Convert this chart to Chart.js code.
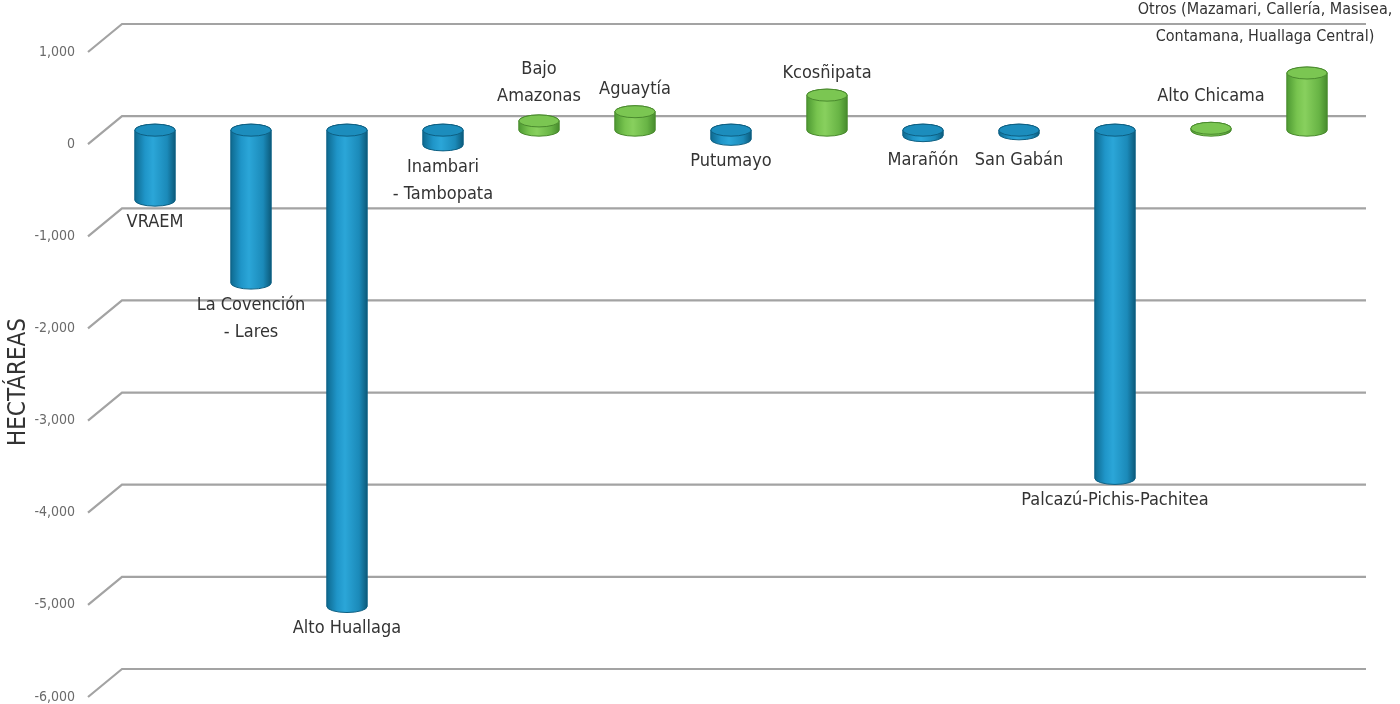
<!DOCTYPE html>
<html>
<head>
<meta charset="utf-8">
<script src="https://cdn.jsdelivr.net/npm/chart.js@4/dist/chart.umd.min.js"></script>
<style>
  html, body { margin: 0; padding: 0; background: #fff; }
  #wrap { width: 1400px; height: 704px; }
</style>
</head>
<body>
<div id="wrap"><canvas id="chart"></canvas></div>
<script>
var zonas = [
    'VRAEM', ['La Covención', '- Lares'], 'Alto Huallaga', ['Inambari', '- Tambopata'],
    ['Bajo', 'Amazonas'], 'Aguaytía', 'Putumayo', 'Kcosñipata', 'Marañón', 'San Gabán',
    'Palcazú-Pichis-Pachitea', 'Alto Chicama',
    ['Otros (Mazamari, Callería, Masisea,', 'Contamana, Huallaga Central)']
];
var hectareas = [-760, -1660, -5170, -160, 100, 200, -100, 380, -60, -40, -3780, 20, 620];

var yMin = -6000;
var yMax = 1000;
var yStep = 1000;
var yTitle = 'HECTÁREAS';

var FONT = "'Liberation Sans Narrow', 'DejaVu Sans Condensed', 'Open Sans', sans-serif";

var BLUE = { cap: '#1c8dbd', edge: '#0d5f82', stops: ['#0e6a90', '#1f95c8', '#2ba6d8', '#1b8ab9', '#0c5b7c'] };
var GREEN = { cap: '#7bc652', edge: '#4a8a2e', stops: ['#4e9a33', '#78c44f', '#88d05e', '#68b445', '#478c2d'] };

// perspective floor lines: slanted stub on the left, flat line behind the bars
var wallGrid = {
    id: 'wallGrid',
    beforeDatasetsDraw: function(chart) {
        var ctx = chart.ctx, y = chart.scales.y;
        ctx.save();
        ctx.strokeStyle = '#a3a3a3';
        ctx.lineWidth = 2.2;
        y.ticks.forEach(function(t) {
            var py = y.getPixelForValue(t.value);
            ctx.beginPath();
            ctx.moveTo(88, py + 14);
            ctx.lineTo(122, py - 14);
            ctx.lineTo(1366, py - 14);
            ctx.stroke();
        });
        ctx.restore();
    },
    afterDraw: function(chart) {
        var ctx = chart.ctx;
        ctx.save();
        ctx.translate(19, 382);
        ctx.rotate(-Math.PI / 2);
        ctx.font = '24px ' + FONT;
        ctx.fillStyle = '#333';
        ctx.textAlign = 'center';
        ctx.textBaseline = 'middle';
        ctx.fillText(yTitle, 0, 0);
        ctx.restore();
    }
};

// turns each bar into a shaded cylinder and writes its zone name at the open end
var cylinders = {
    id: 'cylinders',
    afterDatasetsDraw: function(chart) {
        var ctx = chart.ctx;
        var meta = chart.getDatasetMeta(0);
        var ds = chart.data.datasets[0];
        meta.data.forEach(function(bar, i) {
            var v = ds.data[i];
            var pal = v < 0 ? BLUE : GREEN;
            var rx = bar.width / 2, ry = 6;
            var top = Math.min(bar.y, bar.base), bot = Math.max(bar.y, bar.base);
            var x0 = bar.x - rx, x1 = bar.x + rx;

            var g = ctx.createLinearGradient(x0, 0, x1, 0);
            g.addColorStop(0, pal.stops[0]);
            g.addColorStop(0.25, pal.stops[1]);
            g.addColorStop(0.45, pal.stops[2]);
            g.addColorStop(0.8, pal.stops[3]);
            g.addColorStop(1, pal.stops[4]);

            ctx.save();
            ctx.beginPath();
            ctx.moveTo(x0, top);
            ctx.lineTo(x0, bot);
            ctx.ellipse(bar.x, bot, rx, ry, 0, Math.PI, 0, true);
            ctx.lineTo(x1, top);
            ctx.ellipse(bar.x, top, rx, ry, 0, 0, Math.PI, true);
            ctx.closePath();
            ctx.fillStyle = g;
            ctx.fill();
            ctx.strokeStyle = pal.edge;
            ctx.lineWidth = 1;
            ctx.stroke();

            ctx.beginPath();
            ctx.ellipse(bar.x, top, rx, ry, 0, 0, Math.PI * 2);
            ctx.fillStyle = pal.cap;
            ctx.fill();
            ctx.strokeStyle = pal.edge;
            ctx.stroke();

            // zone label
            var lines = [].concat(chart.data.labels[i]);
            var lh = 27;
            ctx.font = '18px ' + FONT;
            ctx.fillStyle = '#333';
            ctx.textAlign = 'center';
            ctx.textBaseline = 'middle';
            var lx = bar.x, ly;
            if (v < 0) {
                ly = Math.max(bot + ry + 16, 160);
                lines.forEach(function(s, k) { ctx.fillText(s, lx, ly + k * lh); });
            } else {
                ly = Math.min(top - ry - 16, 96);
                if (v > 500) { ly = top - ry - 30; lx = bar.x - 42; ctx.font = '16px ' + FONT; }
                lines.forEach(function(s, k) { ctx.fillText(s, lx, ly - (lines.length - 1 - k) * lh); });
            }
            ctx.restore();
        });
    }
};

new Chart(document.getElementById('chart'), {
    type: 'bar',
    data: {
        labels: zonas,
        datasets: [{
            data: hectareas,
            backgroundColor: hectareas.map(function(v) { return v < 0 ? BLUE.cap : GREEN.cap; }),
            borderWidth: 0,
            barPercentage: 0.84,
            categoryPercentage: 0.5
        }]
    },
    plugins: [wallGrid, cylinders],
    options: {
        responsive: true,
        maintainAspectRatio: false,
        animation: false,
        layout: { padding: { left: 0, right: 45, top: 38, bottom: 21 } },
        plugins: { legend: { display: false }, tooltip: { enabled: false } },
        scales: {
            x: { display: false, grid: { display: false } },
            y: {
                min: yMin,
                max: yMax,
                afterFit: function(s) { s.width = 107; s.paddingTop = 0; s.paddingBottom = 0; },
                grid: { display: false, drawTicks: false, tickLength: 0 },
                border: { display: false },
                ticks: {
                    stepSize: yStep,
                    padding: 32,
                    labelOffset: 14,
                    color: '#6a6a6a',
                    font: { family: FONT, size: 14 },
                    callback: function(v) { return v.toLocaleString('en-US'); }
                }
            }
        }
    }
});
</script>
</body>
</html>
